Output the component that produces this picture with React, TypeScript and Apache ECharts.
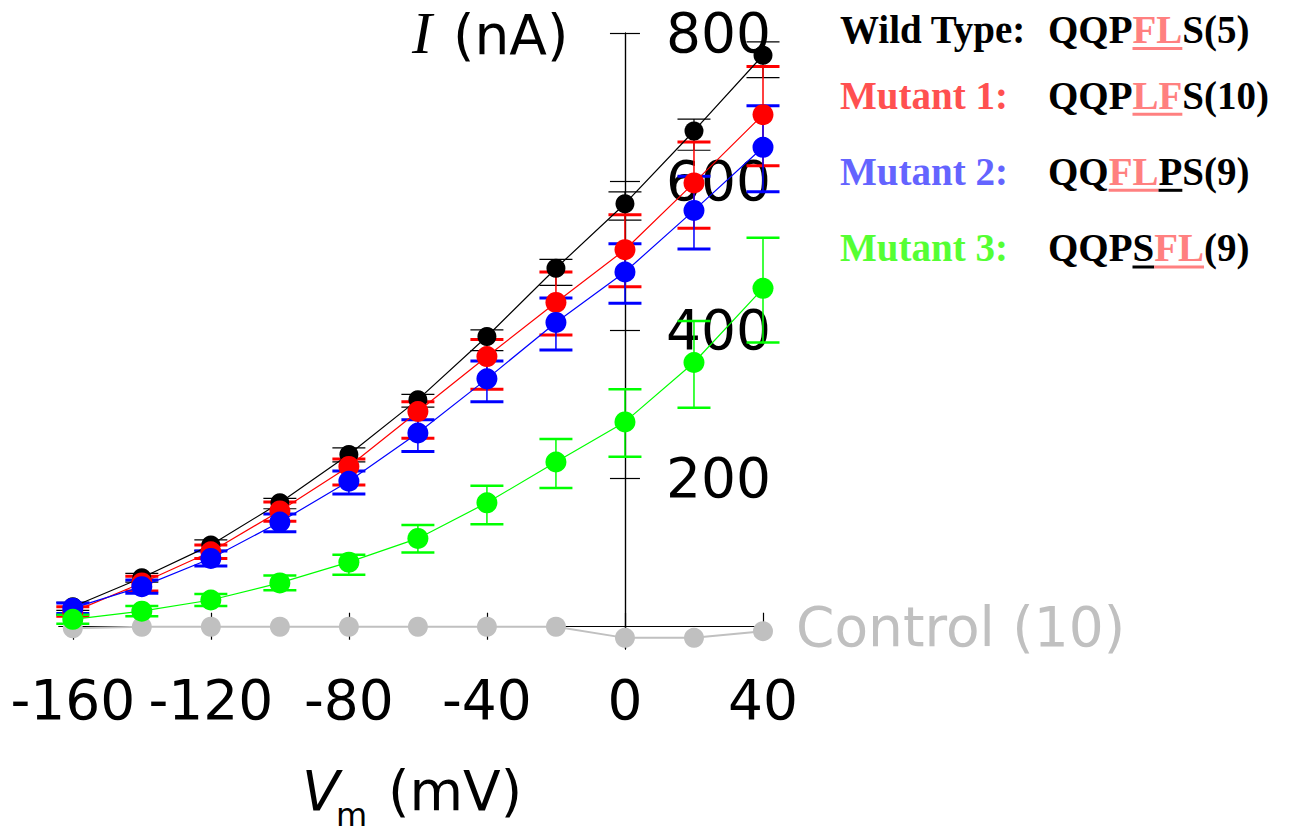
import React, { useEffect, useRef } from 'react';
import * as echarts from 'echarts';

// ---- data ----
const voltages = [-160, -140, -120, -100, -80, -60, -40, -20, 0, 20, 40];
const xTickValues = [-160, -120, -80, -40, 0, 40];
const yTickValues = [200, 400, 600, 800];

const wtMean = [27, 66, 110, 167, 232, 306, 391, 483, 570, 668, 770];
const wtLow = [22, 60, 103, 159, 222, 296, 372, 460, 548, 642, 740];
const wtHigh = [33, 72, 117, 173, 241, 313, 400, 495, 586, 684, 788];

const m1Mean = [20, 59, 101, 156, 216, 290, 364, 437, 508, 598, 690];
const m1Low = [14, 48, 92, 142, 191, 254, 320, 393, 458, 537, 621];
const m1High = [27, 68, 110, 168, 226, 303, 387, 478, 555, 653, 755];

const m2Mean = [25, 54, 92, 141, 196, 261, 334, 410, 478, 561, 646];
const m2Low = [18, 45, 82, 128, 179, 236, 303, 373, 436, 509, 586];
const m2High = [32, 63, 102, 152, 210, 279, 358, 443, 516, 607, 702];

const m3Mean = [10, 21, 36, 59, 87, 119, 167, 222, 276, 356, 456];
const m3Low = [4, 14, 28, 49, 70, 100, 138, 187, 229, 295, 383];
const m3High = [16, 28, 44, 69, 97, 137, 190, 253, 320, 412, 524];

const ctrlMean = [-2, 0, 0, 0, 0, 0, 0, 0, -15, -15, -6];

const legendLabels = ['Wild Type:', 'Mutant 1:', 'Mutant 2:', 'Mutant 3:'];
const legendLabelColors = ['#000000', '#ff5050', '#6464ff', '#55ff33'];
// k = black, p = pink underlined, u = black underlined
const legendSeqs: [string, string][][] = [
  [['QQP', 'k'], ['FL', 'p'], ['S(5)', 'k']],
  [['QQP', 'k'], ['LF', 'p'], ['S(10)', 'k']],
  [['QQ', 'k'], ['FL', 'p'], ['P', 'u'], ['S(9)', 'k']],
  [['QQP', 'k'], ['S', 'u'], ['FL', 'p'], ['(9)', 'k']],
];

const SANS = '"DejaVu Sans", Verdana, sans-serif';
const SERIF = '"Liberation Serif", "Times New Roman", serif';

export default function App() {
  const ref = useRef<HTMLDivElement>(null);

  useEffect(() => {
    const chart = echarts.init(ref.current!, null, { renderer: 'svg' });

    const pts = (arr: number[]) => voltages.map((v, i) => [v, arr[i]]);
    const bars = (lo: number[], hi: number[]) => voltages.map((v, i) => [v, lo[i], hi[i]]);

    const errSeries = (name: string, color: string, lo: number[], hi: number[], lw: number, capW: number) => ({
      type: 'custom',
      name,
      coordinateSystem: 'cartesian2d',
      data: bars(lo, hi),
      encode: { x: 0, y: [1, 2] },
      z: 2,
      silent: true,
      renderItem: (params: any, api: any) => {
        const x = api.value(0);
        const a = api.coord([x, api.value(1)]);
        const b = api.coord([x, api.value(2)]);
        const hw = 16.5;
        return {
          type: 'group',
          children: [
            { type: 'line', shape: { x1: a[0], y1: a[1], x2: b[0], y2: b[1] }, style: { stroke: color, lineWidth: lw } },
            { type: 'line', shape: { x1: a[0] - hw, y1: a[1], x2: a[0] + hw, y2: a[1] }, style: { stroke: color, lineWidth: capW } },
            { type: 'line', shape: { x1: b[0] - hw, y1: b[1], x2: b[0] + hw, y2: b[1] }, style: { stroke: color, lineWidth: capW } },
          ],
        };
      },
    });

    const lineSeries = (name: string, color: string, arr: number[], z: number, lw = 1.2, size = 21) => ({
      type: 'line',
      name,
      data: pts(arr),
      symbol: 'circle',
      symbolSize: size,
      itemStyle: { color },
      lineStyle: { color, width: lw },
      z,
      silent: true,
    });

    // legend (graphic texts) laid out with measured widths
    const legendFontSize = 39;
    const ctx = document.createElement('canvas').getContext('2d')!;
    ctx.font = `bold ${legendFontSize}px "Liberation Serif"`;
    const baselines = [42.5, 108.3, 184.3, 261];
    const graphics: any[] = [];
    legendLabels.forEach((lab, r) => {
      const midY = baselines[r] - 0.34 * legendFontSize;
      graphics.push({
        type: 'text', x: 840, y: midY,
        style: { text: lab, fill: legendLabelColors[r], fontSize: legendFontSize, fontWeight: 'bold', fontFamily: SERIF, verticalAlign: 'middle' },
      });
      let x = 1048;
      legendSeqs[r].forEach(([t, kind]) => {
        const w = ctx.measureText(t).width;
        const col = kind === 'p' ? '#ff8080' : '#000000';
        graphics.push({
          type: 'text', x, y: midY,
          style: { text: t, fill: col, fontSize: legendFontSize, fontWeight: 'bold', fontFamily: SERIF, verticalAlign: 'middle' },
        });
        if (kind !== 'k') {
          graphics.push({ type: 'rect', shape: { x, y: baselines[r] + 4.5, width: w, height: 3 }, style: { fill: col } });
        }
        x += w;
      });
    });

    // axis titles
    graphics.push({ type: 'text', x: 412, y: 33, style: { text: 'I', fontSize: 60, fontStyle: 'italic', fontFamily: SERIF, fill: '#000', verticalAlign: 'middle' } });
    graphics.push({ type: 'text', x: 453, y: 34.5, style: { text: '(nA)', fontSize: 55, fontFamily: SANS, fill: '#000', verticalAlign: 'middle' } });
    graphics.push({ type: 'text', x: 302, y: 791, style: { text: 'V', fontSize: 55, fontStyle: 'italic', fontFamily: SANS, fill: '#000', verticalAlign: 'middle' } });
    graphics.push({ type: 'text', x: 336, y: 815, style: { text: 'm', fontSize: 32, fontFamily: SANS, fill: '#000', verticalAlign: 'middle' } });
    graphics.push({ type: 'text', x: 388, y: 791, style: { text: '(mV)', fontSize: 55, fontFamily: SANS, fill: '#000', verticalAlign: 'middle' } });

    const axisLine = { onZero: true, lineStyle: { color: '#000', width: 1.2 } };

    chart.setOption({
      animation: false,
      backgroundColor: '#ffffff',
      grid: { left: 59, right: 530, top: 33, bottom: 189, containLabel: false, outerBoundsMode: 'none' },
      xAxis: [
        {
          type: 'value', min: -164, max: 40, position: 'bottom',
          axisLine: { ...axisLine, onZeroAxisIndex: 0 },
          axisTick: { show: true, length: 13, inside: false, customValues: xTickValues, lineStyle: { color: '#000', width: 1.2 } },
          axisLabel: { show: true, customValues: xTickValues, fontSize: 55, fontFamily: SANS, color: '#000', margin: 23 },
          splitLine: { show: false },
        },
        {
          type: 'value', min: -164, max: 40, position: 'bottom',
          axisLine: { ...axisLine, onZeroAxisIndex: 1 },
          axisTick: { show: true, length: 14, inside: true, customValues: xTickValues, lineStyle: { color: '#000', width: 1.2 } },
          axisLabel: { show: false },
          splitLine: { show: false },
        },
      ],
      yAxis: [
        {
          type: 'value', min: -30, max: 800, position: 'right',
          axisLine: { ...axisLine, onZeroAxisIndex: 0 },
          axisTick: { show: true, length: 15, inside: false, customValues: yTickValues, lineStyle: { color: '#000', width: 1.2 } },
          axisLabel: { show: true, inside: false, customValues: yTickValues, fontSize: 55, fontFamily: SANS, color: '#000', margin: -97 },
          splitLine: { show: false },
        },
        {
          type: 'value', min: -30, max: 800, position: 'left',
          axisLine: { ...axisLine, onZeroAxisIndex: 1 },
          axisTick: { show: true, length: 15, inside: false, customValues: yTickValues, lineStyle: { color: '#000', width: 1.2 } },
          axisLabel: { show: false },
          splitLine: { show: false },
        },
      ],
      graphic: graphics,
      series: [
        {
          ...lineSeries('Control (10)', '#c0c0c0', ctrlMean, 3, 2, 20),
          endLabel: { show: true, formatter: 'Control (10)', color: '#c0c0c0', fontSize: 55, fontFamily: SANS, distance: 33, offset: [0, -4] },
        },
        errSeries('WT err', '#000000', wtLow, wtHigh, 1.2, 1.2),
        errSeries('M1 err', '#ff0000', m1Low, m1High, 1.5, 3),
        errSeries('M2 err', '#0000ff', m2Low, m2High, 1.5, 3),
        errSeries('M3 err', '#00ff00', m3Low, m3High, 1.5, 2.5),
        lineSeries('Wild Type', '#000000', wtMean, 4, 1.2, 19),
        lineSeries('Mutant 1', '#ff0000', m1Mean, 5),
        lineSeries('Mutant 2', '#0000ff', m2Mean, 6),
        lineSeries('Mutant 3', '#00ff00', m3Mean, 7),
      ],
    });

    return () => chart.dispose();
  }, []);

  return (
    <div
      ref={ref}
      style={{ position: 'fixed', left: 0, top: 0, width: 1293, height: 838, background: '#fff' }}
    />
  );
}
